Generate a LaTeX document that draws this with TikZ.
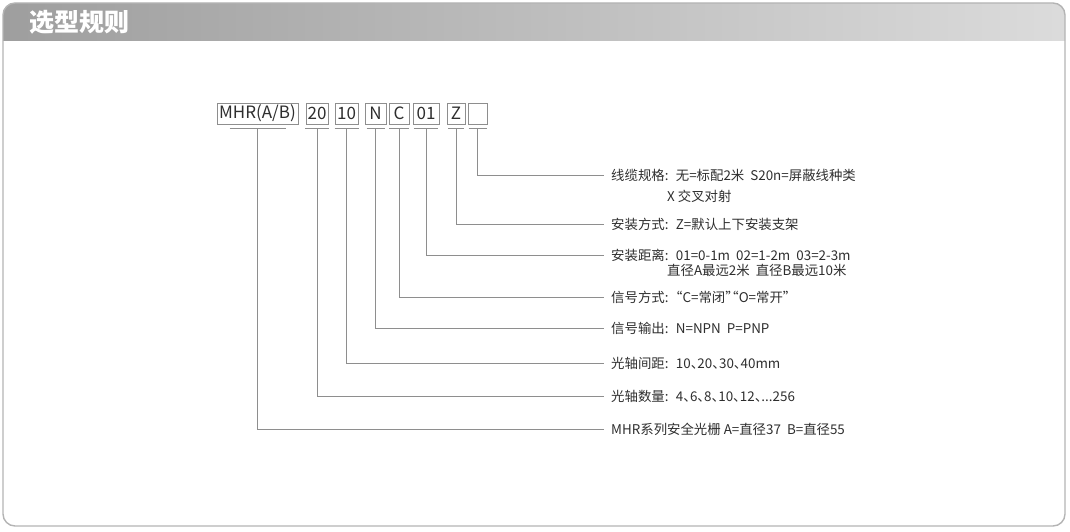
\documentclass[tikz,border=0pt]{standalone}
\usepackage{fontspec}
\setmainfont{Noto Sans CJK SC}[RawFeature=+halt]
\definecolor{framegray}{HTML}{B4B4B4}
\definecolor{linegray}{HTML}{8E8E8E}
\definecolor{txtgray}{HTML}{2E2E2E}
\newcommand\colsep{:\hspace{0.55em}}
\tikzset{
  codebox/.style={draw=linegray, line width=0.8pt, minimum height=21pt,
    inner sep=0pt, text=txtgray, font=\fontsize{17}{17}\selectfont},
  leader/.style={draw=linegray, line width=0.9pt},
  spec/.style={anchor=west, inner sep=0pt, text=txtgray,
    font=\fontsize{13.4}{13.4}\selectfont}
}
\begin{document}
\begin{tikzpicture}[x=1pt, y=-1pt]
    \useasboundingbox (0,0) rectangle (1070,532);

    % Frame and header
    \begin{scope}
      \clip[rounded corners=12pt] (3,3) rectangle (1065,526);
      \shade[left color=black!38, right color=black!14] (3,3) rectangle (1065,41);
    \end{scope}
    \draw[framegray, line width=1.4pt, rounded corners=12pt] (3,3) rectangle (1065,526);
    \node[anchor=west, inner sep=0pt, text=white,
      font=\fontsize{25}{25}\selectfont\bfseries] (title) at (29,22) {选型规则};

    % Code boxes
    \node[codebox, minimum width=81pt] (mhr) at (257.5,113.5) {MHR(A/B)};
    \node[codebox, minimum width=22pt] (num) at (317,113.5) {20};
    \node[codebox, minimum width=23pt] (pitch) at (346.5,113.5) {10};
    \node[codebox, minimum width=21pt] (out) at (375.5,113.5) {N};
    \node[codebox, minimum width=20pt] (sig) at (399,113.5) {C};
    \node[codebox, minimum width=26pt] (dist) at (426,113.5) {01};
    \node[codebox, minimum width=18pt] (mount) at (456,113.5) {Z};
    \node[codebox, minimum width=19pt] (cable) at (477.5,113.5) {};

    % Spec texts
    \node[spec] (tcable) at (611,175) {线缆规格\colsep 无=标配2米\ \ S20n=屏蔽线种类};
    \node[spec] (tcable2) at (667,196) {X 交叉对射};
    \node[spec] (tmount) at (611,224) {安装方式\colsep Z=默认上下安装支架};
    \node[spec] (tdist) at (611,255) {安装距离\colsep 01=0-1m\ \ 02=1-2m\ \ 03=2-3m};
    \node[spec] (tdist2) at (667,270) {直径A最远2米\ \ 直径B最远10米};
    \node[spec] (tsig) at (611,297) {信号方式\colsep “C=常闭”“O=常开”};
    \node[spec] (tout) at (611,328) {信号输出\colsep N=NPN\ \ P=PNP};
    \node[spec] (tpitch) at (611,363) {光轴间距\colsep 10、20、30、40mm};
    \node[spec] (tnum) at (611,396) {光轴数量\colsep 4、6、8、10、12、...256};
    \node[spec] (tmhr) at (611,429) {MHR系列安全光栅 A=直径37\ \ B=直径55};

    % Leaders
    \foreach \b/\t/\w in {mhr/tmhr/28, num/tnum/12, pitch/tpitch/12, out/tout/9,
        sig/tsig/10, dist/tdist/12, mount/tmount/8, cable/tcable/9} {
      \coordinate (\b-u) at ([yshift=-4pt]\b.south);
      \draw[leader] ([xshift=-\w pt]\b-u) -- ([xshift=\w pt]\b-u);
      \draw[leader] (\b-u) |- ([xshift=-7pt]\t.west);
    }
\end{tikzpicture}
\end{document}
